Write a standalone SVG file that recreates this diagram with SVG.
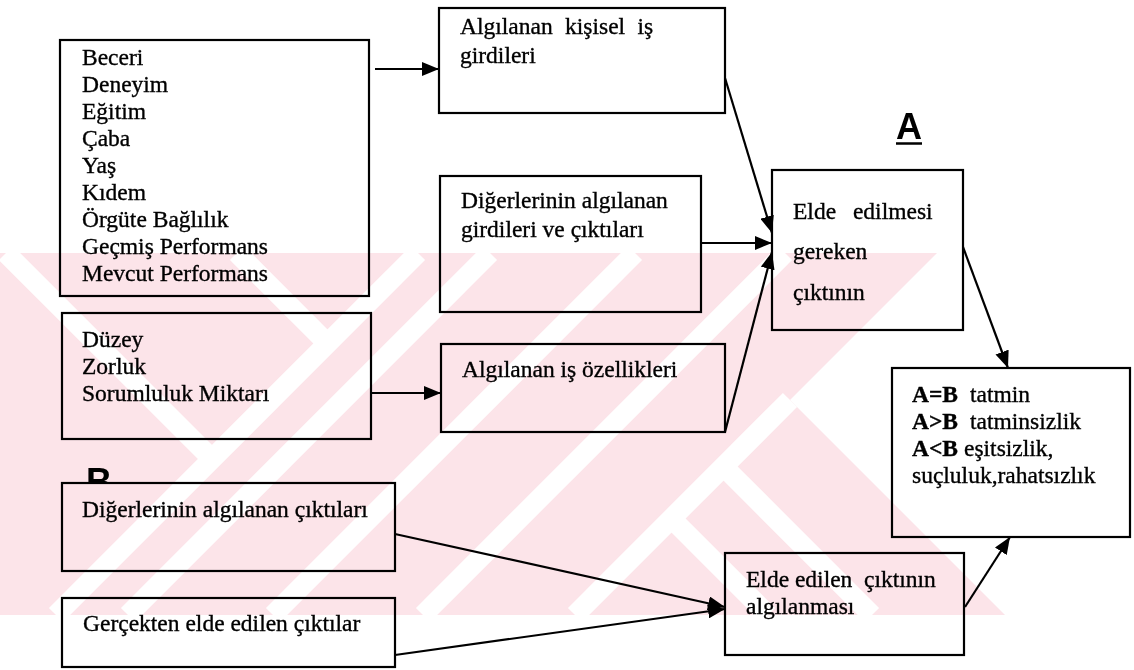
<svg xmlns="http://www.w3.org/2000/svg" width="1134" height="670" viewBox="0 0 1134 670">
  <style>
    .box{fill:#fff;stroke:#000;stroke-width:2.2}
    .t{font-family:"Liberation Serif","Times New Roman",serif;font-size:23.5px;fill:#000;stroke:#000;stroke-width:0.35}
    .b{font-weight:bold}
    .lbl{font-family:"Liberation Sans",Arial,sans-serif;font-weight:bold;font-size:36px;fill:#000}
    .c{stroke:#000;stroke-width:2.2;fill:none;marker-end:url(#ah)}
    .wm{fill:#fce4e9}
    .cut{stroke:#fff;stroke-width:20;fill:none}
  </style>
  <defs>
    <marker id="ah" markerUnits="userSpaceOnUse" viewBox="0 0 17 14" refX="17" refY="7" markerWidth="17" markerHeight="14" orient="auto">
      <path d="M0,0 L17,7 L0,14 z" fill="#000"/>
    </marker>
    <clipPath id="wmclip">
      <polygon points="0,253 937,253 790,400 1005,615 0,615"/>
    </clipPath>
  </defs>
  <rect width="1134" height="670" fill="#fff"/>

  <!-- section labels -->
  <g id="labelA">
    <text class="lbl" x="896" y="139">A</text>
    <line x1="896" y1="143.5" x2="922" y2="143.5" stroke="#000" stroke-width="2.5"/>
  </g>
  <g id="labelB">
    <text class="lbl" x="86" y="494">B</text>
  </g>

  <g id="n-factors">
    <rect class="box" x="60" y="40" width="309" height="256"/>
    <text class="t" x="82" y="65">Beceri</text>
    <text class="t" x="82" y="92">Deneyim</text>
    <text class="t" x="82" y="119">Eğitim</text>
    <text class="t" x="82" y="146">Çaba</text>
    <text class="t" x="82" y="173">Yaş</text>
    <text class="t" x="82" y="200">Kıdem</text>
    <text class="t" x="82" y="227">Örgüte Bağlılık</text>
    <text class="t" x="82" y="254">Geçmiş Performans</text>
    <text class="t" x="82" y="281">Mevcut Performans</text>
  </g>

  <g id="n-personal-inputs">
    <rect class="box" x="439" y="8" width="286" height="105"/>
    <text class="t" x="460" y="34" word-spacing="6.5">Algılanan kişisel iş</text>
    <text class="t" x="460" y="63">girdileri</text>
  </g>

  <g id="n-others-io">
    <rect class="box" x="440" y="176" width="261" height="136"/>
    <text class="t" x="461" y="208">Diğerlerinin algılanan</text>
    <text class="t" x="461" y="237">girdileri ve çıktıları</text>
  </g>

  <g id="n-required">
    <rect class="box" x="772" y="170" width="191" height="160"/>
    <text class="t" x="793" y="219" word-spacing="11">Elde edilmesi</text>
    <text class="t" x="793" y="259">gereken</text>
    <text class="t" x="793" y="300">çıktının</text>
  </g>

  <g id="n-job-factors">
    <rect class="box" x="62" y="313" width="309" height="126"/>
    <text class="t" x="82" y="347">Düzey</text>
    <text class="t" x="82" y="374">Zorluk</text>
    <text class="t" x="82" y="401">Sorumluluk Miktarı</text>
  </g>

  <g id="n-job-traits">
    <rect class="box" x="441" y="344" width="284" height="88"/>
    <text class="t" x="462" y="377">Algılanan iş özellikleri</text>
  </g>

  <g id="n-others-out">
    <rect class="box" x="62" y="483" width="333" height="88"/>
    <text class="t" x="82" y="517">Diğerlerinin algılanan çıktıları</text>
  </g>

  <g id="n-actual-out">
    <rect class="box" x="62" y="598" width="333" height="69"/>
    <text class="t" x="83" y="631">Gerçekten elde edilen çıktılar</text>
  </g>

  <g id="n-perceived">
    <rect class="box" x="725" y="553" width="239" height="102"/>
    <text class="t" x="746" y="587">Elde edilen<tspan x="864">çıktının</tspan></text>
    <text class="t" x="746" y="614">algılanması</text>
  </g>

  <g id="n-result">
    <rect class="box" x="892" y="368" width="238" height="169"/>
    <text class="t" x="912" y="402"><tspan class="b">A=B</tspan><tspan x="970">tatmin</tspan></text>
    <text class="t" x="912" y="429"><tspan class="b">A&gt;B</tspan><tspan x="970">tatminsizlik</tspan></text>
    <text class="t" x="912" y="456"><tspan class="b">A&lt;B</tspan><tspan x="964">eşitsizlik,</tspan></text>
    <text class="t" x="912" y="483">suçluluk,rahatsızlık</text>
  </g>

  <g id="connectors">
    <line class="c" x1="375" y1="69" x2="439" y2="69"/>
    <line class="c" x1="725" y1="78" x2="772" y2="233"/>
    <line class="c" x1="701" y1="243" x2="772" y2="243"/>
    <line class="c" x1="725" y1="432" x2="772" y2="252"/>
    <line class="c" x1="372" y1="393" x2="441" y2="393"/>
    <line class="c" x1="963" y1="247" x2="1008" y2="368"/>
    <line class="c" x1="395" y1="534" x2="725" y2="607"/>
    <line class="c" x1="395" y1="655" x2="725" y2="609"/>
    <line class="c" x1="965" y1="607" x2="1010" y2="537"/>
  </g>

  <!-- striped cross mark, multiplied over the drawing -->
  <g id="mark" clip-path="url(#wmclip)" style="mix-blend-mode:multiply">
    <rect class="wm" x="0" y="253" width="1010" height="362"/>
    <g class="cut">
      <!-- rising stripes -->
      <line x1="418" y1="253" x2="56" y2="615"/>
      <line x1="490" y1="253" x2="128" y2="615"/>
      <line x1="635" y1="253" x2="273" y2="615"/>
      <line x1="785" y1="253" x2="423" y2="615"/>
      <line x1="790" y1="400" x2="575" y2="615"/>
      <!-- falling stripes, upper left -->
      <line x1="237" y1="253" x2="327.5" y2="343.5"/>
      <line x1="6" y1="253" x2="212" y2="459"/>
      <!-- falling stripes, lower right -->
      <line x1="723.5" y1="466.5" x2="872" y2="615"/>
      <line x1="671.5" y1="518.5" x2="768" y2="615"/>
    </g>
  </g>
</svg>
